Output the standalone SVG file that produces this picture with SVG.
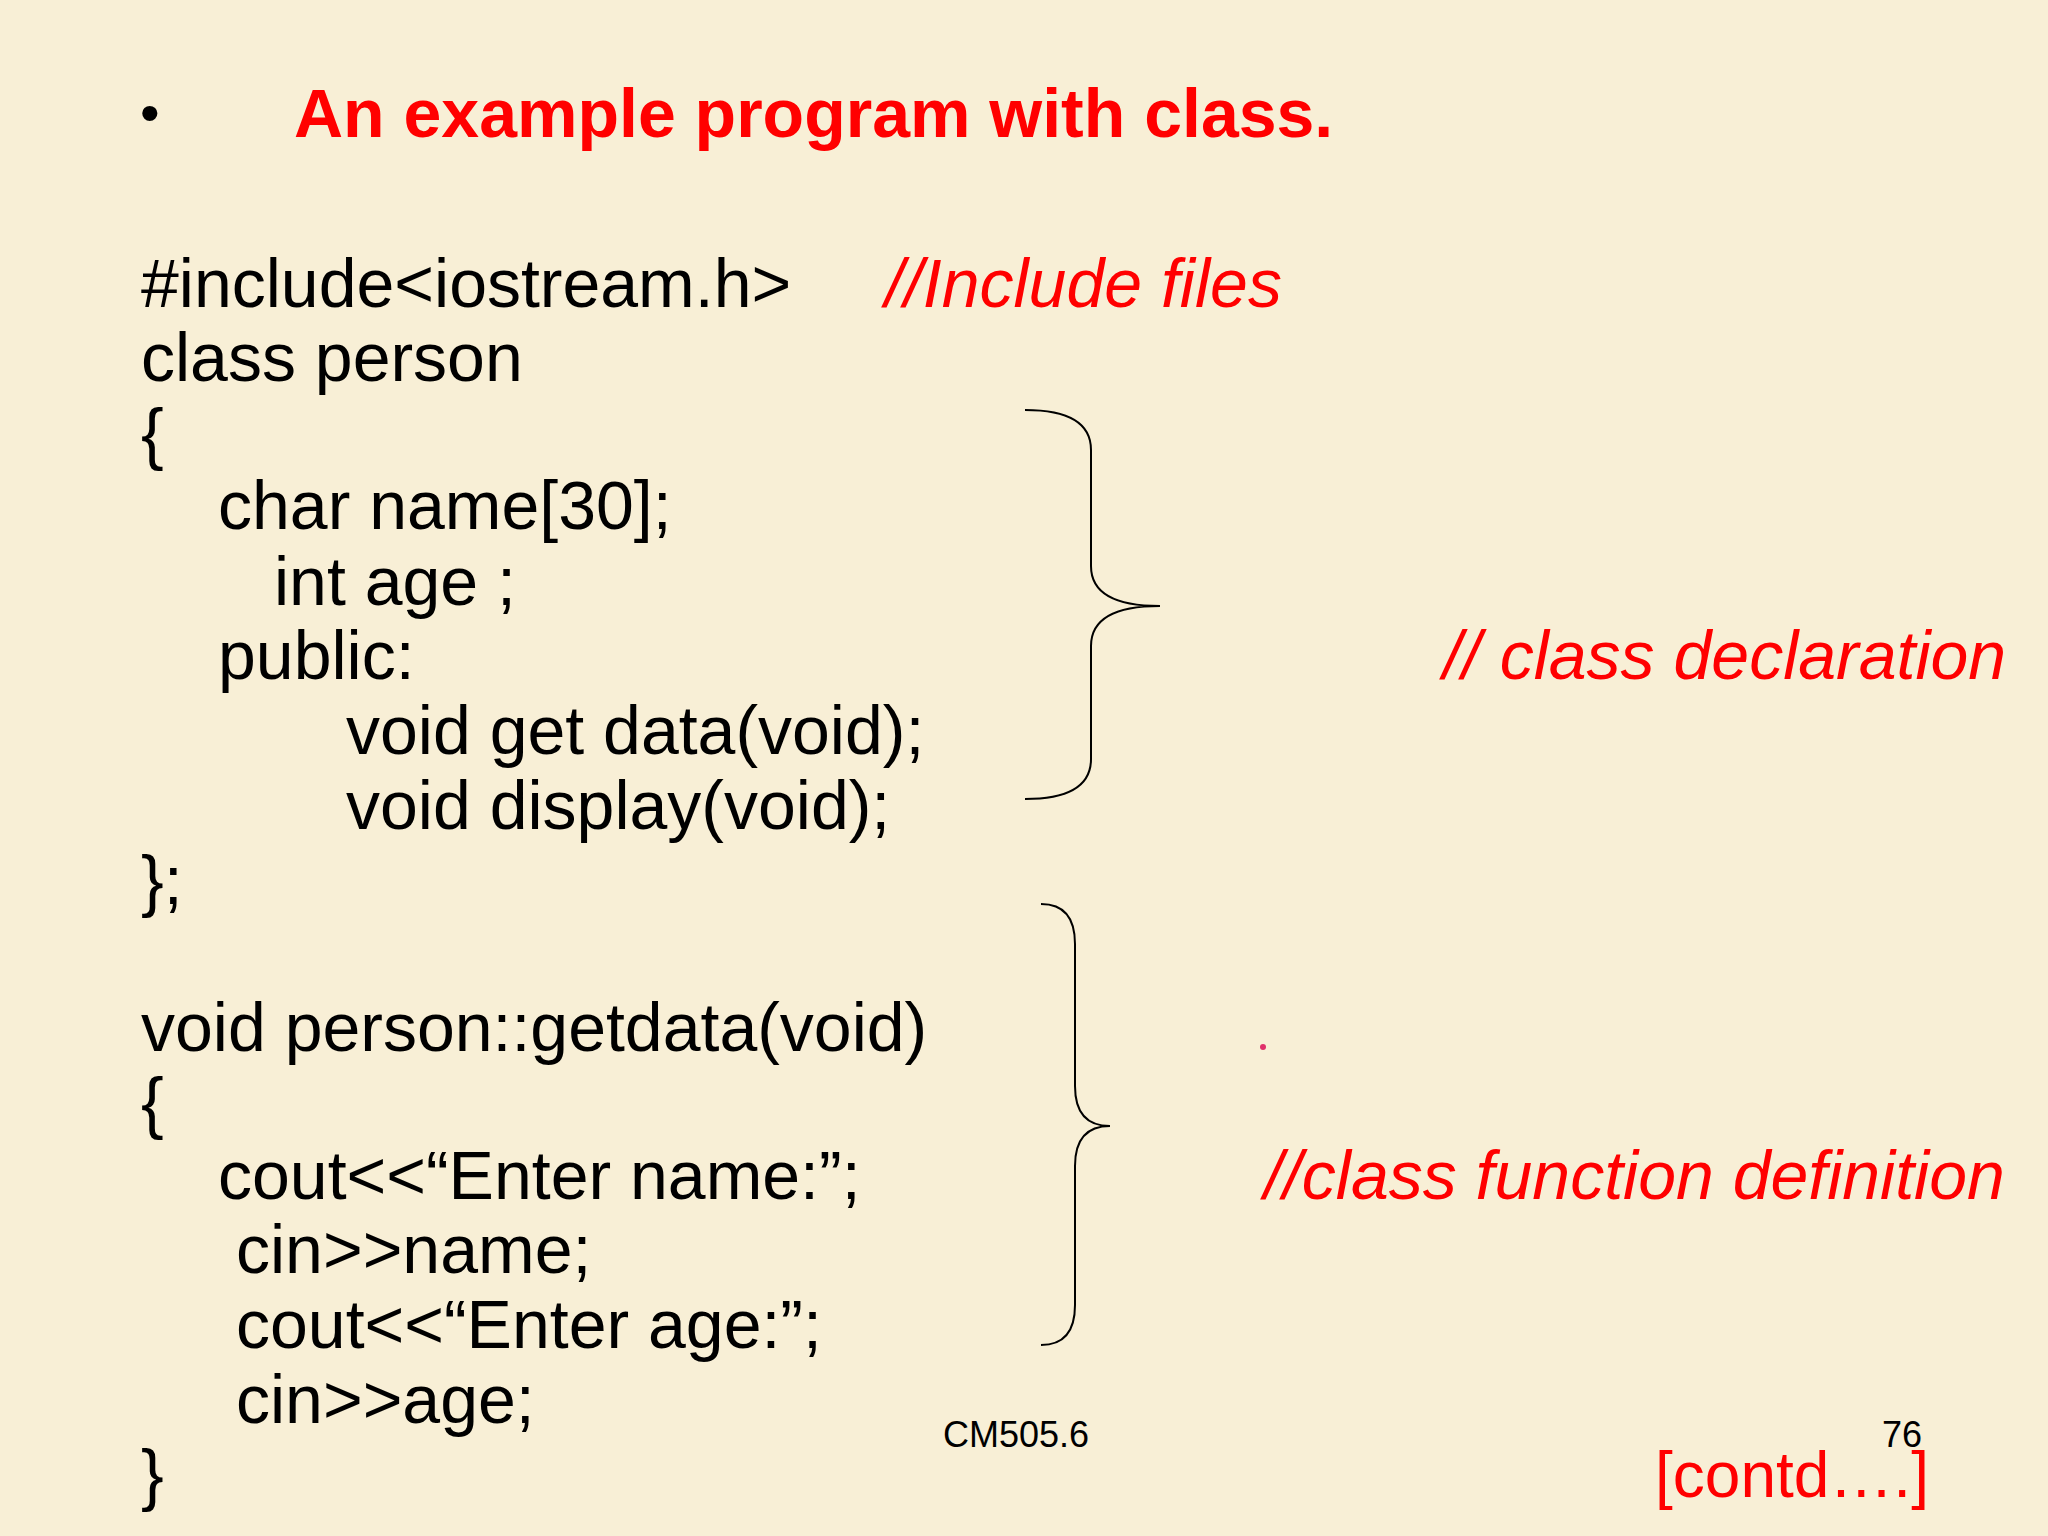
<svg xmlns="http://www.w3.org/2000/svg" width="2048" height="1536" viewBox="0 0 2048 1536">
<style>
.c{font-family:"Liberation Sans",Arial,sans-serif;font-size:68px;fill:#000}
.r{font-family:"Liberation Sans",Arial,sans-serif;font-size:68px;fill:#f00;font-style:italic}
.f{font-family:"Liberation Sans",Arial,sans-serif;font-size:36px;fill:#000}
.b{fill:none;stroke:#000;stroke-width:2}
</style>
<rect width="2048" height="1536" fill="#f8efd6"/>
<g id="title">
<text x="140" y="132" class="f" style="font-size:56px">•</text>
<text x="294" y="137" style="font-family:'Liberation Sans',Arial,sans-serif;font-size:68px;font-weight:bold;fill:#f00">An example program with class.</text>
</g>
<g id="code">
<text x="141" y="307" class="c">#include&lt;iostream.h&gt;</text>
<text x="141" y="381" class="c">class person</text>
<text x="141" y="457" class="c">{</text>
<text x="218" y="529" class="c">char name[30];</text>
<text x="274" y="605" class="c">int age ;</text>
<text x="218" y="679" class="c">public:</text>
<text x="346" y="754" class="c">void get data(void);</text>
<text x="346" y="829" class="c">void display(void);</text>
<text x="141" y="904" class="c">};</text>
<text x="141" y="1051" class="c">void person::getdata(void)</text>
<text x="141" y="1126" class="c">{</text>
<text x="218" y="1199" class="c">cout&lt;&lt;“Enter name:”;</text>
<text x="236" y="1273" class="c">cin&gt;&gt;name;</text>
<text x="236" y="1348" class="c">cout&lt;&lt;“Enter age:”;</text>
<text x="236" y="1423" class="c">cin&gt;&gt;age;</text>
<text x="141" y="1498" class="c">}</text>
</g>
<g id="comments">
<text x="885" y="307" class="r">//Include files</text>
<text x="1443" y="679" class="r">// class declaration</text>
<text x="1264" y="1199" class="r">//class function definition</text>
<circle cx="1263" cy="1047" r="3" fill="#e0306a"/>
</g>
<g id="braces">
<path class="b" d="M1025,410 Q1091,410 1091,450 L1091,566 Q1091,606 1160,606 Q1091,606 1091,646 L1091,759 Q1091,799 1025,799"/>
<path class="b" d="M1041,904 Q1075,904 1075,944 L1075,1086 Q1075,1126 1110,1126 Q1075,1126 1075,1166 L1075,1305 Q1075,1345 1041,1345"/>
</g>
<g id="footer">
<text x="943" y="1447" class="f">CM505.6</text>
<text x="1882" y="1447" class="f">76</text>
<text x="1655" y="1497" style="font-family:'Liberation Sans',Arial,sans-serif;font-size:64px;fill:#f00">[contd….]</text>
</g>
</svg>
